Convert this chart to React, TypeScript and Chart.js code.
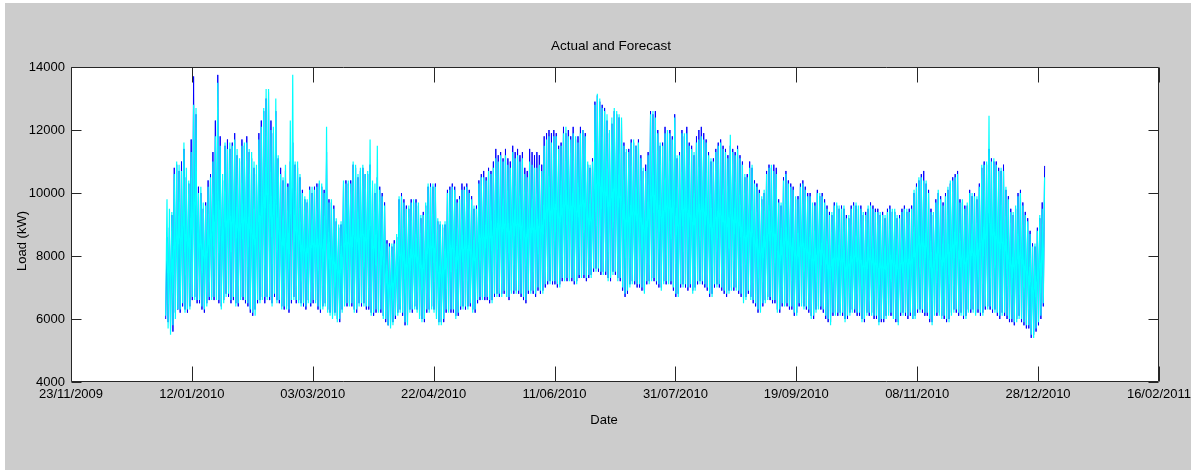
import React, { useEffect, useRef } from 'react';
import { Chart, registerables } from 'chart.js';

Chart.register(...registerables);

// ---- data -------------------------------------------------------------
// Day offset of 01/01/2010 from the axis origin 23/11/2009
const firstDayOffset = 39;
// Typical hour of the daily trough and of the daily peak
const troughHour = 4;
const peakHour = 17;

const xTickLabels = [
  '23/11/2009', '12/01/2010', '03/03/2010', '22/04/2010', '11/06/2010',
  '31/07/2010', '19/09/2010', '08/11/2010', '28/12/2010', '16/02/2011',
];
const xTickStepDays = 50;
const yTickValues = [4000, 6000, 8000, 10000, 12000, 14000];

// Daily peaks / troughs of the actual load (kW), 01/01/2010 .. 30/12/2010 (one line per week)
const actualHigh = [
  8600, 8900, 9300, 10800, 10900, 10700, 11000,
  11400, 10500, 10300, 11700, 13700, 12500, 10200,
  10000, 9500, 9700, 10400, 10600, 11300, 12300,
  13750, 11800, 10400, 11500, 11700, 11400, 11600,
  11900, 11200, 11000, 11700, 11500, 11800, 11300,
  11100, 10800, 10600, 11900, 12300, 12600, 13000,
  13200, 12300, 11900, 12600, 11100, 10800, 10400,
  10700, 10300, 11000, 11600, 10900, 10800, 10500,
  10100, 9800, 9700, 10200, 10000, 10200, 10300,
  10300, 10200, 10100, 11300, 9800, 9700, 9600,
  9100, 8900, 9000, 10300, 10400, 10300, 10400,
  10900, 10800, 10500, 10700, 10800, 10600, 10600,
  10900, 10200, 10000, 10500, 10200, 10000, 9700,
  8500, 8400, 8300, 8500, 8600, 9800, 10000,
  9800, 9600, 9500, 9800, 9700, 9800, 9600,
  9200, 9400, 9600, 10200, 10300, 10200, 10300,
  9100, 9000, 8900, 9000, 10100, 10200, 10300,
  10200, 9800, 9900, 10300, 10200, 10300, 10100,
  9900, 9500, 9600, 10400, 10600, 10700, 10500,
  10800, 10700, 11000, 11400, 11200, 11300, 11100,
  11400, 11100, 11000, 11500, 11300, 11400, 11200,
  11300, 10800, 10700, 11400, 11300, 11200, 11300,
  11200, 10900, 11800, 11900, 12000, 11900, 12000,
  11900, 11500, 11600, 12100, 11900, 12000, 11800,
  12100, 11700, 11800, 12100, 12000, 11900, 10900,
  10800, 11100, 12900, 13100, 12900, 12800, 12700,
  12300, 11900, 12200, 12600, 12500, 12400, 12300,
  11600, 11300, 11400, 11700, 11600, 11500, 11700,
  11200, 10700, 10900, 11300, 12600, 12500, 12600,
  12000, 11500, 11600, 12100, 11900, 12000, 11800,
  12500, 11100, 11300, 12000, 11800, 12100, 11600,
  11500, 11200, 11800, 12000, 12100, 11900, 11700,
  11300, 11000, 11100, 11400, 11600, 11700, 11500,
  11400, 11200, 11500, 11400, 11300, 11500, 11200,
  11000, 10500, 10600, 11000, 10800, 10400, 10300,
  10100, 9800, 10000, 10700, 10900, 10800, 10900,
  10800, 9800, 9600, 10500, 10700, 10400, 10300,
  10200, 9800, 9900, 10300, 10400, 10200, 10000,
  10000, 9600, 9700, 10100, 9900, 10000, 9800,
  9600, 9400, 9300, 9700, 9600, 9500, 9600,
  9500, 9300, 9200, 9600, 9700, 9600, 9500,
  9600, 9300, 9400, 9500, 9700, 9600, 9500,
  9500, 9300, 9400, 9200, 9500, 9600, 9400,
  9400, 9200, 9300, 9500, 9600, 9400, 9500,
  9600, 10000, 10300, 10400, 10600, 10700, 10300,
  10100, 9500, 9300, 9800, 10000, 9900, 9700,
  10000, 10100, 10300, 10500, 10600, 10700, 9800,
  9700, 9600, 9600, 10100, 9900, 10000, 9800,
  10300, 10800, 11000, 10900, 11400, 11100, 11000,
  11000, 10800, 10700, 10900, 10100, 9900, 9500,
  9300, 9500, 10000, 10100, 9700, 9400, 9200,
  8800, 8400, 8300, 8900, 9200, 9700, 10860,
];
const actualLow = [
  6000, 5900, 5700, 5600, 6200, 6300, 6200,
  6400, 6300, 6200, 6400, 6600, 6700, 6500,
  6500, 6300, 6200, 6500, 6600, 6700, 6600,
  6700, 6500, 6400, 6600, 6800, 6700, 6500,
  6600, 6500, 6400, 6700, 6600, 6500, 6400,
  6200, 6100, 6300, 6500, 6600, 6700, 6500,
  6700, 6600, 6500, 6700, 6600, 6500, 6400,
  6300, 6400, 6200, 6500, 6700, 6500, 6600,
  6500, 6400, 6300, 6600, 6400, 6500, 6600,
  6300, 6200, 6400, 6500, 6300, 6200, 6100,
  6200, 6000, 5900, 6300, 6500, 6400, 6500,
  6400, 6300, 6200, 6500, 6400, 6500, 6300,
  6300, 6200, 6100, 6200, 6300, 6200, 6100,
  5900, 5800, 5800, 5900, 6000, 6200, 6300,
  6100, 5800, 5900, 6300, 6200, 6400, 6300,
  6100, 6000, 5900, 6200, 6300, 6400, 6300,
  6100, 5900, 5900, 5900, 6200, 6300, 6200,
  6200, 6100, 6100, 6300, 6400, 6300, 6400,
  6400, 6300, 6200, 6500, 6600, 6700, 6600,
  6600, 6500, 6600, 6700, 6800, 6700, 6800,
  6800, 6700, 6600, 6900, 6800, 6900, 6800,
  6700, 6600, 6500, 6800, 6900, 6800, 6700,
  6900, 6800, 6900, 7000, 7100, 7200, 7100,
  7100, 7000, 7100, 7200, 7300, 7200, 7300,
  7200, 7100, 7200, 7300, 7400, 7300, 7200,
  7300, 7400, 7500, 7600, 7500, 7400, 7500,
  7400, 7300, 7200, 7500, 7400, 7300, 7200,
  6900, 6700, 6800, 7100, 7200, 7100, 7000,
  7000, 6900, 6900, 7100, 7200, 7300, 7200,
  7100, 7000, 7000, 7200, 7100, 7200, 7100,
  6900, 6700, 6800, 7000, 7100, 7000, 6900,
  7000, 6900, 7000, 7100, 7200, 7100, 7000,
  6900, 6700, 6800, 7000, 7100, 7000, 6900,
  6800, 6700, 6900, 7000, 6900, 7000, 6800,
  6700, 6600, 6700, 6800, 6700, 6500, 6400,
  6200, 6300, 6400, 6600, 6700, 6600, 6500,
  6500, 6300, 6200, 6400, 6500, 6400, 6300,
  6300, 6100, 6200, 6400, 6500, 6400, 6300,
  6200, 6100, 6000, 6300, 6400, 6300, 6200,
  6000, 5900, 5900, 6100, 6200, 6100, 6200,
  6100, 6000, 6000, 6200, 6300, 6200, 6100,
  6100, 6000, 5900, 6200, 6100, 6200, 6000,
  6000, 5900, 5900, 5900, 6100, 6200, 6100,
  6100, 5900, 5900, 6100, 6200, 6100, 6000,
  6100, 6000, 6100, 6200, 6300, 6200, 6100,
  6100, 5900, 5900, 6200, 6100, 6200, 6100,
  6000, 5900, 6000, 6200, 6300, 6200, 6100,
  6200, 6000, 6100, 6300, 6200, 6300, 6200,
  6200, 6100, 6200, 6300, 6400, 6300, 6200,
  6300, 6100, 6000, 6200, 6100, 6000, 5900,
  5900, 5800, 6000, 6100, 5900, 5800, 5700,
  5700, 5400, 5500, 5600, 5800, 6000, 6400,
];

// Daily peaks / troughs of the forecast load (kW)
const forecastHigh = [
  9800, 9500, 9400, 10600, 11000, 10900, 10700,
  11600, 10800, 10400, 11300, 12800, 12700, 10000,
  10200, 9700, 9600, 10200, 10500, 11000, 11800,
  13500, 11500, 10600, 11600, 11400, 11600, 11500,
  11700, 11400, 11100, 11500, 11600, 11600, 11400,
  11300, 11000, 10900, 11700, 12100, 12700, 13300,
  13300, 12000, 12100, 13000, 11200, 10600, 10500,
  10900, 10200, 12300, 13750, 11000, 11000, 10600,
  10000, 9900, 9800, 10100, 10200, 10100, 10200,
  10400, 10300, 10000, 12100, 9700, 9800, 9500,
  9200, 9000, 9100, 10400, 10300, 10400, 10300,
  11000, 10900, 10600, 10800, 10900, 10600, 10700,
  11700, 10400, 10300, 11500, 10100, 9900, 9600,
  8400, 8300, 8400, 8400, 8700, 9900, 9900,
  9700, 9500, 9600, 9700, 9800, 9700, 9700,
  9300, 9300, 9700, 10300, 10200, 10300, 10200,
  9200, 9100, 9000, 9100, 10000, 10100, 10200,
  10100, 9700, 9800, 10100, 10100, 10200, 10000,
  9800, 9600, 9500, 10300, 10500, 10500, 10400,
  10700, 10600, 10800, 11100, 11000, 11200, 11000,
  11200, 10900, 10800, 11300, 11100, 11200, 11000,
  11100, 10600, 10500, 11000, 10900, 10800, 10800,
  10900, 10700, 11500, 11700, 11800, 11600, 11800,
  11800, 11400, 11500, 11900, 12100, 11800, 11700,
  11900, 11800, 11600, 11900, 12000, 11800, 11000,
  10900, 11000, 12800, 13150, 13000, 12700, 12600,
  12500, 12000, 12400, 12700, 12600, 12500, 12400,
  11500, 11400, 11300, 11600, 11700, 11500, 11600,
  11100, 10800, 10700, 11200, 12500, 12600, 12400,
  11900, 11600, 11500, 11900, 12000, 11900, 11700,
  12400, 11200, 11200, 11900, 11900, 11900, 11500,
  11400, 11300, 11600, 11700, 11800, 11700, 11600,
  11200, 11100, 11000, 11300, 11500, 11600, 11400,
  11300, 11100, 11850, 11300, 11200, 11400, 11100,
  10900, 10600, 10500, 10800, 10900, 10300, 10200,
  10000, 9900, 10100, 10600, 10800, 10900, 10700,
  10600, 9700, 9700, 10400, 10600, 10300, 10200,
  10100, 9900, 9800, 10200, 10300, 10100, 9900,
  9900, 9700, 9600, 10000, 10000, 9900, 9700,
  9500, 9300, 9400, 9600, 9700, 9600, 9500,
  9600, 9200, 9300, 9500, 9600, 9700, 9600,
  9500, 9400, 9300, 9600, 9600, 9500, 9400,
  9400, 9400, 9300, 9300, 9400, 9500, 9500,
  9500, 9300, 9200, 9400, 9500, 9500, 9400,
  9500, 10100, 10200, 10500, 10500, 10400, 10400,
  10000, 9400, 9400, 9700, 10100, 9800, 9600,
  9900, 10200, 10400, 10400, 10500, 10600, 9700,
  9800, 9500, 9700, 10000, 10000, 9900, 9900,
  10200, 10900, 10900, 11000, 12450, 11000, 11100,
  10900, 10700, 10800, 10700, 10200, 9800, 9400,
  9400, 9600, 9900, 10000, 9600, 9300, 9100,
  8700, 8300, 8400, 8800, 9300, 9500, 10500,
];
const forecastLow = [
  6100, 5700, 5500, 5800, 6000, 6300, 6300,
  6500, 6200, 6300, 6300, 6700, 6600, 6600,
  6600, 6400, 6300, 6400, 6700, 6600, 6700,
  6600, 6600, 6300, 6500, 6700, 6800, 6600,
  6700, 6400, 6500, 6600, 6700, 6600, 6500,
  6300, 6200, 6100, 6600, 6500, 6600, 6700,
  6600, 6700, 6400, 6800, 6500, 6600, 6300,
  6400, 6300, 6300, 6600, 6600, 6600, 6500,
  6400, 6500, 6400, 6500, 6500, 6600, 6500,
  6400, 6300, 6300, 6400, 6200, 6100, 6000,
  6100, 5900, 6000, 6200, 6400, 6500, 6400,
  6500, 6200, 6300, 6400, 6500, 6400, 6400,
  6400, 6100, 6200, 6300, 6200, 6300, 6000,
  6000, 5800, 5700, 5800, 6100, 6100, 6200,
  6200, 5900, 5800, 6200, 6300, 6300, 6200,
  6000, 5900, 6000, 6300, 6200, 6300, 6200,
  6000, 5800, 5800, 6000, 6300, 6200, 6300,
  6300, 6000, 6200, 6400, 6300, 6400, 6300,
  6500, 6200, 6300, 6600, 6700, 6600, 6700,
  6700, 6600, 6500, 6800, 6700, 6800, 6700,
  6900, 6700, 6700, 6800, 6900, 6800, 6900,
  6800, 6700, 6600, 6900, 6800, 6900, 6800,
  7000, 6900, 6800, 7100, 7200, 7100, 7200,
  7200, 7100, 7000, 7300, 7200, 7300, 7200,
  7300, 7200, 7100, 7400, 7300, 7400, 7300,
  7400, 7300, 7600, 7500, 7600, 7500, 7400,
  7500, 7200, 7300, 7400, 7500, 7200, 7300,
  7000, 6800, 6900, 7000, 7100, 7200, 7100,
  7100, 7000, 6800, 7200, 7100, 7200, 7300,
  7200, 7100, 6900, 7100, 7200, 7100, 7200,
  7000, 6800, 6700, 7100, 7000, 7100, 7000,
  7100, 6800, 6900, 7200, 7100, 7200, 7100,
  7000, 6800, 6700, 7100, 7000, 7100, 7000,
  6900, 6800, 6800, 6900, 7000, 6900, 6900,
  6800, 6500, 6600, 6900, 6600, 6600, 6500,
  6300, 6200, 6500, 6500, 6600, 6700, 6600,
  6600, 6200, 6300, 6500, 6400, 6500, 6400,
  6400, 6200, 6100, 6500, 6400, 6300, 6400,
  6300, 6000, 6100, 6200, 6300, 6400, 6300,
  6100, 6000, 5800, 6200, 6100, 6200, 6100,
  6200, 5900, 6100, 6100, 6200, 6300, 6200,
  6200, 5900, 6000, 6100, 6200, 6100, 6100,
  6100, 5800, 6000, 6000, 6000, 6100, 6200,
  6000, 6000, 5800, 6200, 6100, 6200, 6100,
  6200, 6000, 6000, 6300, 6200, 6300, 6200,
  6200, 6000, 5800, 6100, 6200, 6100, 6000,
  6100, 6000, 5900, 6100, 6200, 6300, 6200,
  6100, 6100, 6000, 6200, 6300, 6200, 6100,
  6300, 6200, 6100, 6400, 6300, 6400, 6300,
  6200, 6200, 6100, 6100, 6200, 6100, 6000,
  6000, 5900, 5900, 6000, 6000, 5900, 5800,
  5800, 5500, 5400, 5700, 5900, 6100, 6500,
];

// ---- helpers ------------------------------------------------------------
function dailyZigzag(low: number[], high: number[]) {
  const pts: { x: number; y: number }[] = [];
  for (let d = 0; d < low.length; d++) {
    pts.push({ x: firstDayOffset + d + troughHour / 24, y: low[d] });
    pts.push({ x: firstDayOffset + d + peakHour / 24, y: high[d] });
  }
  return pts;
}

const FONT = '"Liberation Sans", Arial, Helvetica, sans-serif';

const matlabDecor = {
  id: 'matlabDecor',
  beforeDraw(chart: any) {
    const { ctx, width, height, chartArea: a } = chart;
    ctx.save();
    ctx.fillStyle = '#ffffff';
    ctx.fillRect(0, 0, width, height);
    ctx.fillStyle = '#cccccc';
    ctx.fillRect(5, 3, width - 10, height - 3);
    ctx.fillStyle = '#ffffff';
    ctx.fillRect(a.left, a.top, a.right - a.left, a.bottom - a.top);
    ctx.restore();
  },
  afterDatasetsDraw(chart: any) {
    const { ctx, chartArea: a, scales } = chart;
    const xs = scales.x;
    const ys = scales.y;
    ctx.save();
    ctx.strokeStyle = '#262626';
    ctx.lineWidth = 1;
    ctx.beginPath();
    const L = Math.round(a.left) + 0.5;
    const R = Math.round(a.right) - 0.5;
    const T = Math.round(a.top) + 0.5;
    const B = Math.round(a.bottom) - 0.5;
    ctx.rect(L, T, R - L, B - T);
    xs.ticks.forEach((t: any) => {
      const px = Math.round(xs.getPixelForValue(t.value)) + 0.5;
      ctx.moveTo(px, B);
      ctx.lineTo(px, B - 15);
      ctx.moveTo(px, T);
      ctx.lineTo(px, T + 15);
    });
    ys.ticks.forEach((t: any) => {
      const py = Math.round(ys.getPixelForValue(t.value)) + 0.5;
      ctx.moveTo(L, py);
      ctx.lineTo(L + 10, py);
      ctx.moveTo(R, py);
      ctx.lineTo(R - 10, py);
    });
    ctx.stroke();
    ctx.restore();
  },
  afterDraw(chart: any) {
    const { ctx } = chart;
    ctx.save();
    ctx.fillStyle = '#000000';
    ctx.textAlign = 'center';
    ctx.textBaseline = 'middle';
    ctx.font = `13.5px ${FONT}`;
    ctx.fillText('Actual and Forecast', 611, 46);
    ctx.font = `13px ${FONT}`;
    ctx.fillText('Date', 604, 420);
    ctx.translate(22, 241);
    ctx.rotate(-Math.PI / 2);
    ctx.fillText('Load (kW)', 0, 0);
    ctx.restore();
  },
};

export default function App() {
  const ref = useRef<HTMLCanvasElement | null>(null);

  useEffect(() => {
    if (!ref.current) return;
    const chart = new Chart(ref.current, {
      type: 'line',
      data: {
        datasets: [
          {
            label: 'Actual',
            data: dailyZigzag(actualLow, actualHigh),
            borderColor: '#0000ff',
            borderWidth: 1,
            pointRadius: 0,
            fill: false,
            tension: 0,
            order: 2,
          },
          {
            label: 'Forecast',
            data: dailyZigzag(forecastLow, forecastHigh),
            borderColor: '#00ffff',
            borderWidth: 1.2,
            pointRadius: 0,
            fill: false,
            tension: 0,
            order: 1,
          },
        ],
      },
      options: {
        animation: false,
        responsive: false,
        parsing: false as any,
        normalized: true,
        layout: { padding: { left: 0, top: 67, right: 36, bottom: 0 } },
        plugins: {
          legend: { display: false },
          tooltip: { enabled: false },
          title: { display: false },
        },
        scales: {
          x: {
            type: 'linear',
            min: 0,
            max: xTickStepDays * (xTickLabels.length - 1),
            grid: { display: false, drawTicks: false },
            border: { display: false },
            afterFit: (s: any) => { s.height = 88; },
            ticks: {
              stepSize: xTickStepDays,
              autoSkip: false,
              maxRotation: 0,
              minRotation: 0,
              padding: 5,
              color: '#000000',
              font: { family: FONT, size: 13 },
              callback: (v: any) => xTickLabels[Math.round(Number(v) / xTickStepDays)] ?? '',
            },
          },
          y: {
            type: 'linear',
            min: yTickValues[0],
            max: yTickValues[yTickValues.length - 1],
            grid: { display: false, drawTicks: false },
            border: { display: false },
            afterFit: (s: any) => { s.width = 71; },
            ticks: {
              stepSize: yTickValues[1] - yTickValues[0],
              padding: 6,
              color: '#000000',
              font: { family: FONT, size: 13 },
              callback: (v: any) => String(v),
            },
          },
        },
      },
      plugins: [matlabDecor],
    });
    return () => chart.destroy();
  }, []);

  return (
    <div style={{ position: 'absolute', left: 0, top: 0, width: 1196, height: 470 }}>
      <canvas ref={ref} width={1196} height={470} style={{ display: 'block', width: 1196, height: 470 }} />
    </div>
  );
}
